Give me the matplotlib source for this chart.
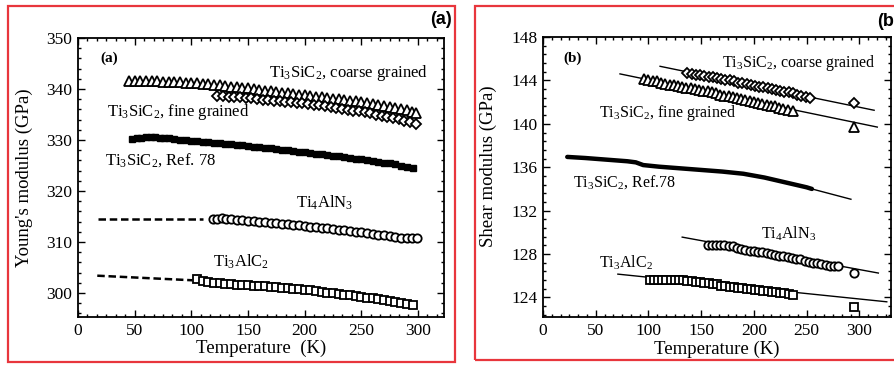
import matplotlib

matplotlib.use("Agg")

import matplotlib.pyplot as plt
from matplotlib.patches import Rectangle
from matplotlib.ticker import MultipleLocator, AutoMinorLocator


plt.rcParams["font.family"] = "Liberation Serif"
plt.rcParams["mathtext.fontset"] = "custom"
plt.rcParams["mathtext.rm"] = "Liberation Serif"
plt.rcParams["mathtext.it"] = "Liberation Serif:italic"
plt.rcParams["mathtext.bf"] = "Liberation Serif:bold"

# ---- (a) Young's modulus vs temperature ----
E_COARSE_T = [45, 50, 55, 60, 65, 70, 75, 80, 85, 90, 95, 100, 105, 110, 115, 120,
              125, 130, 135, 140, 145, 150, 155, 160, 165, 170, 175, 180, 185, 190,
              195, 200, 205, 210, 215, 220, 225, 230, 235, 240, 245, 250, 255, 260,
              265, 270, 275, 280, 285, 290, 295, 298]
E_COARSE = [341.6, 341.6, 341.6, 341.5, 341.5, 341.5, 341.4, 341.4, 341.3, 341.3,
            341.2, 341.2, 341.1, 341.0, 340.9, 340.8, 340.7, 340.5, 340.4, 340.3,
            340.2, 340.1, 340.0, 339.8, 339.7, 339.6, 339.4, 339.3, 339.2, 339.0,
            338.9, 338.8, 338.7, 338.5, 338.4, 338.3, 338.1, 338.0, 337.9, 337.7,
            337.6, 337.5, 337.3, 337.1, 336.9, 336.7, 336.5, 336.3, 336.0, 335.8,
            335.5, 335.3]

E_FINE_T = [123, 128, 133, 138, 143, 148, 153, 158, 163, 168, 173, 178, 183, 188,
            193, 198, 203, 208, 213, 218, 223, 228, 233, 238, 243, 248, 253, 258,
            263, 268, 273, 278, 283, 288, 293, 298]
E_FINE = [338.7, 338.6, 338.5, 338.5, 338.4, 338.3, 338.2, 338.1, 337.9, 337.8,
          337.7, 337.6, 337.5, 337.4, 337.3, 337.2, 337.1, 336.9, 336.8, 336.6,
          336.4, 336.3, 336.1, 335.9, 335.7, 335.6, 335.4, 335.2, 335.0, 334.8,
          334.6, 334.3, 334.1, 333.8, 333.5, 333.2]

E_REF_T = [48, 52, 56, 60, 64, 68, 72, 76, 80, 85, 90, 95, 100, 105, 110, 115, 120,
           125, 130, 135, 140, 145, 150, 155, 160, 165, 170, 175, 180, 185, 190, 195,
           200, 205, 210, 215, 220, 225, 230, 235, 240, 245, 250, 255, 260, 265, 270,
           275, 280, 285, 290, 296]
E_REF = [330.2, 330.3, 330.4, 330.5, 330.5, 330.5, 330.4, 330.4, 330.3, 330.2,
         330.1, 330.0, 329.9, 329.8, 329.7, 329.6, 329.5, 329.4, 329.3, 329.2,
         329.1, 329.0, 328.9, 328.7, 328.6, 328.5, 328.4, 328.2, 328.1, 328.0,
         327.8, 327.7, 327.6, 327.5, 327.3, 327.2, 327.0, 326.9, 326.8, 326.6,
         326.5, 326.3, 326.2, 326.0, 325.9, 325.7, 325.5, 325.4, 325.2, 325.0,
         324.8, 324.6]

E_TI4ALN3_T = [119, 123, 127, 131, 135, 140, 145, 150, 155, 160, 165, 170, 175, 180,
               185, 190, 195, 200, 205, 210, 215, 220, 225, 230, 235, 240, 245, 250,
               255, 260, 265, 270, 275, 280, 285, 290, 295, 299]
E_TI4ALN3 = [314.5, 314.6, 314.7, 314.6, 314.5, 314.4, 314.3, 314.2, 314.1, 314.0,
             313.9, 313.8, 313.7, 313.6, 313.5, 313.4, 313.3, 313.2, 313.0, 312.9,
             312.8, 312.7, 312.5, 312.4, 312.3, 312.1, 312.0, 311.9, 311.7, 311.6,
             311.4, 311.3, 311.1, 311.0, 310.8, 310.7, 310.7, 310.8]
E_TI4ALN3_EXTRAP_T = [18, 110]
E_TI4ALN3_EXTRAP = [314.6, 314.6]

E_TI3ALC2_T = [105, 110, 115, 120, 125, 130, 135, 140, 145, 150, 155, 160, 165, 170,
               175, 180, 185, 190, 195, 200, 205, 210, 215, 220, 225, 230, 235, 240,
               245, 250, 255, 260, 265, 270, 275, 280, 285, 290, 296]
E_TI3ALC2 = [302.8, 302.3, 302.1, 302.0, 301.9, 301.8, 301.7, 301.6, 301.6, 301.5,
             301.4, 301.4, 301.3, 301.2, 301.1, 301.0, 300.9, 300.8, 300.7, 300.6,
             300.5, 300.4, 300.2, 300.1, 300.0, 299.9, 299.7, 299.6, 299.4, 299.3,
             299.1, 299.0, 298.8, 298.6, 298.4, 298.3, 298.1, 297.9, 297.6]
E_TI3ALC2_EXTRAP_T = [17, 101]
E_TI3ALC2_EXTRAP = [303.4, 302.5]

# ---- (b) shear modulus vs temperature ----
G_COARSE_T = [137, 141, 145, 149, 153, 157, 161, 165, 169, 173, 177, 181, 185, 189,
              193, 197, 201, 205, 209, 213, 217, 221, 225, 229, 233, 237, 241, 245,
              249, 253, 295]
G_COARSE = [144.7, 144.6, 144.5, 144.5, 144.4, 144.3, 144.3, 144.2, 144.1, 144.0,
            144.0, 143.9, 143.8, 143.8, 143.7, 143.6, 143.5, 143.4, 143.4, 143.3,
            143.2, 143.1, 143.0, 142.9, 142.9, 142.8, 142.7, 142.6, 142.5, 142.4,
            141.9]
G_COARSE_FIT_T = [111, 314]
G_COARSE_FIT = [145.3, 141.25]

G_FINE_T = [96, 100, 104, 108, 112, 116, 120, 124, 128, 132, 136, 140, 144, 148,
            152, 156, 160, 164, 168, 172, 176, 180, 184, 188, 192, 196, 200, 204,
            208, 212, 216, 220, 224, 228, 232, 237, 295]
G_FINE = [144.1, 144.0, 143.9, 143.9, 143.8, 143.7, 143.6, 143.6, 143.5, 143.4,
          143.3, 143.3, 143.2, 143.1, 143.0, 143.0, 142.9, 142.8, 142.7, 142.6,
          142.6, 142.5, 142.4, 142.3, 142.2, 142.1, 142.0, 141.9, 141.8, 141.7,
          141.6, 141.6, 141.5, 141.4, 141.3, 141.2, 139.7]
G_FINE_FIT_T = [73, 317]
G_FINE_FIT = [144.6, 139.7]

G_REF_T = [23, 40, 60, 80, 88, 95, 110, 130, 150, 170, 190, 210, 230, 250, 255]
G_REF = [136.95, 136.85, 136.7, 136.55, 136.45, 136.2, 136.05, 135.9, 135.75,
         135.6, 135.4, 135.05, 134.6, 134.15, 134.0]
G_REF_TAIL_T = [255, 292]
G_REF_TAIL = [134.0, 133.05]

G_TI4ALN3_T = [156, 160, 164, 168, 172, 176, 180, 184, 188, 192, 196, 200, 204, 208,
               212, 216, 220, 224, 228, 232, 236, 240, 244, 248, 252, 256, 260, 264,
               268, 272, 276, 280, 295]
G_TI4ALN3 = [128.8, 128.8, 128.8, 128.8, 128.8, 128.7, 128.7, 128.6, 128.5, 128.4,
             128.3, 128.3, 128.2, 128.2, 128.1, 128.0, 127.9, 127.8, 127.8, 127.7,
             127.6, 127.5, 127.5, 127.4, 127.3, 127.2, 127.2, 127.1, 127.0, 126.9,
             126.9, 126.9, 126.3]
G_TI4ALN3_FIT_T = [132, 318]
G_TI4ALN3_FIT = [129.56, 126.25]

G_TI3ALC2_T = [101, 105, 109, 113, 117, 121, 125, 129, 133, 137, 141, 145, 149, 153,
               157, 161, 165, 169, 173, 177, 181, 185, 189, 193, 197, 201, 205, 209,
               213, 217, 221, 225, 229, 233, 237, 295]
G_TI3ALC2 = [125.6, 125.6, 125.6, 125.6, 125.6, 125.6, 125.6, 125.6, 125.6, 125.5,
             125.5, 125.4, 125.4, 125.3, 125.3, 125.2, 125.2, 125.1, 125.1, 125.0,
             125.0, 124.9, 124.9, 124.8, 124.8, 124.7, 124.7, 124.6, 124.6, 124.5,
             124.5, 124.4, 124.4, 124.3, 124.2, 123.15]
G_TI3ALC2_FIT_T = [71, 326]
G_TI3ALC2_FIT = [126.15, 123.6]

SIC = r"Ti$_\mathrm{3}$SiC$_\mathrm{2}$"
ALN = r"Ti$_\mathrm{4}$AlN$_\mathrm{3}$"
ALC = r"Ti$_\mathrm{3}$AlC$_\mathrm{2}$"

W, H = 894, 365
FRAME_RED = "#e8363c"
TICK_SIZE = 12.5
LABEL_SIZE = 13.5
NOTE_SIZE = 12


def open_marks(ax, t, v, marker, ms=6.5):
    ax.plot(t, v, ls="none", marker=marker, ms=ms, mfc="white", mec="black", mew=1.3)


def style_axis(ax, xmax, ylim, ymajor):
    ax.set_xlim(0, xmax)
    ax.set_ylim(*ylim)
    ax.xaxis.set_major_locator(MultipleLocator(50))
    ax.xaxis.set_minor_locator(AutoMinorLocator(6))
    ax.yaxis.set_major_locator(MultipleLocator(ymajor))
    ax.yaxis.set_minor_locator(AutoMinorLocator(5))
    ax.tick_params(which="both", direction="in", top=True, right=True,
                   labelsize=TICK_SIZE, width=1.0)
    ax.tick_params(which="major", length=5, pad=4)
    ax.tick_params(which="minor", length=2.5)
    for spine in ax.spines.values():
        spine.set_linewidth(1.3)


def px_axes(left, top, right, bottom):
    return [left / W, 1 - bottom / H, (right - left) / W, (bottom - top) / H]


fig = plt.figure(figsize=(W / 100, H / 100), dpi=100)

# red panel frames
fig.add_artist(Rectangle((8 / W, 3 / H), 447 / W, 356 / H, transform=fig.transFigure,
                         fill=False, ec=FRAME_RED, lw=1.6))
fig.add_artist(Rectangle((475 / W, 5 / H), 440 / W, 354 / H, transform=fig.transFigure,
                         fill=False, ec=FRAME_RED, lw=1.6))
fig.text(452 / W, 1 - 20 / H, "(a)", ha="right", va="center", fontsize=13,
         fontweight="bold", family="Liberation Sans")
fig.text(877 / W, 1 - 21 / H, "(b)", ha="left", va="center", fontsize=13,
         fontweight="bold", family="Liberation Sans")

# (a) Young's modulus
ax1 = fig.add_axes(px_axes(78, 38, 444, 317))
ax1.plot(E_REF_T, E_REF, ls="none", marker="s", ms=4.5, color="black")
open_marks(ax1, E_COARSE_T, E_COARSE, "^")
open_marks(ax1, E_FINE_T, E_FINE, "D", ms=5.5)
open_marks(ax1, E_TI4ALN3_T, E_TI4ALN3, "o", ms=6)
open_marks(ax1, E_TI3ALC2_T, E_TI3ALC2, "s", ms=6)
ax1.plot(E_TI4ALN3_EXTRAP_T, E_TI4ALN3_EXTRAP, ls=(0, (3, 1.5)), lw=1.8, color="black")
ax1.plot(E_TI3ALC2_EXTRAP_T, E_TI3ALC2_EXTRAP, ls=(0, (3, 1.5)), lw=1.8, color="black")
style_axis(ax1, 323, (295.3, 350), 10)
ax1.set_xlabel("Temperature  (K)", fontsize=LABEL_SIZE)
ax1.set_ylabel("Young's modulus (GPa)", fontsize=LABEL_SIZE)
ax1.xaxis.set_label_coords(0.5, -0.08)
ax1.yaxis.set_label_coords(-0.123, 0.5)
ax1.text(20, 346, "(a)", fontsize=11, fontweight="bold", va="center")
ax1.text(169, 343.1, SIC + ", coarse grained", fontsize=NOTE_SIZE, va="center")
ax1.text(26, 335.5, SIC + ", fine grained", fontsize=NOTE_SIZE, va="center")
ax1.text(24, 326.1, SIC + ", Ref. 78", fontsize=NOTE_SIZE, va="center")
ax1.text(192, 317.6, ALN, fontsize=NOTE_SIZE, va="center")
ax1.text(119, 306.1, ALC, fontsize=NOTE_SIZE, va="center")

# (b) shear modulus
ax2 = fig.add_axes(px_axes(543, 37, 891, 317))
for fit_t, fit_v in [(G_COARSE_FIT_T, G_COARSE_FIT), (G_FINE_FIT_T, G_FINE_FIT),
                     (G_TI4ALN3_FIT_T, G_TI4ALN3_FIT), (G_TI3ALC2_FIT_T, G_TI3ALC2_FIT),
                     (G_REF_TAIL_T, G_REF_TAIL)]:
    ax2.plot(fit_t, fit_v, color="black", lw=1.0)
ax2.plot(G_REF_T, G_REF, color="black", lw=3.2, solid_capstyle="round")
open_marks(ax2, G_COARSE_T, G_COARSE, "D", ms=5.5)
open_marks(ax2, G_FINE_T, G_FINE, "^")
open_marks(ax2, G_TI4ALN3_T, G_TI4ALN3, "o", ms=6)
open_marks(ax2, G_TI3ALC2_T, G_TI3ALC2, "s", ms=5.5)
style_axis(ax2, 330, (122.2, 148), 4)
ax2.set_xlabel("Temperature (K)", fontsize=LABEL_SIZE)
ax2.set_ylabel("Shear modulus (GPa)", fontsize=LABEL_SIZE)
ax2.xaxis.set_label_coords(0.5, -0.085)
ax2.yaxis.set_label_coords(-0.132, 0.54)
ax2.text(19, 146.0, "(b)", fontsize=11, fontweight="bold", va="center")
ax2.text(170, 145.56, SIC + ", coarse grained", fontsize=NOTE_SIZE - 0.5, va="center")
ax2.text(53, 140.97, SIC + ", fine grained", fontsize=NOTE_SIZE - 0.5, va="center")
ax2.text(28, 134.6, SIC + ", Ref.78", fontsize=NOTE_SIZE - 0.5, va="center")
ax2.text(207, 129.9, ALN, fontsize=NOTE_SIZE - 0.5, va="center")
ax2.text(53, 127.2, ALC, fontsize=NOTE_SIZE - 0.5, va="center")

fig.savefig("out.png", dpi=100)
